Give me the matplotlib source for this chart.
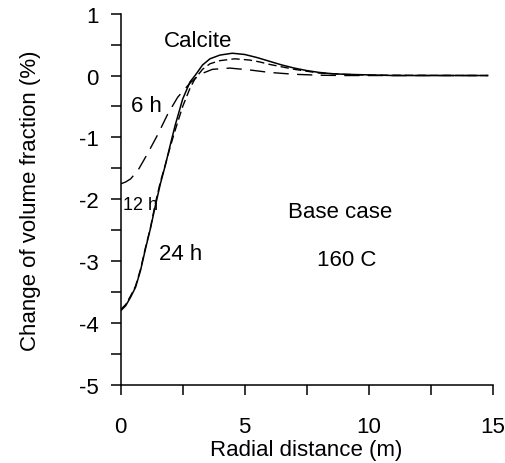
import matplotlib
matplotlib.use("Agg")
import matplotlib.pyplot as plt
from matplotlib.ticker import MultipleLocator

plt.rcParams['font.family'] = ['Liberation Sans', 'DejaVu Sans']
plt.rcParams['axes.unicode_minus'] = False

# values
x_24h = [0.0, 0.2, 0.4, 0.6, 0.8, 1.0, 1.2, 1.4, 1.6, 1.8, 2.0, 2.2, 2.5, 2.8, 3.0,
         3.3, 3.6, 4.0, 4.5, 5.0, 5.5, 6.0, 6.5, 7.0, 7.5, 8.0, 8.5, 9.0, 10.0, 11.0, 14.8]
y_24h = [-3.8, -3.72, -3.58, -3.42, -3.15, -2.8, -2.47, -2.1, -1.75, -1.45, -1.12, -0.8, -0.38,
         -0.1, 0.0, 0.17, 0.27, 0.33, 0.36, 0.34, 0.29, 0.23, 0.17, 0.12, 0.08, 0.05, 0.03,
         0.02, 0.01, 0.0, 0.0]

x_12h = [0.0, 0.2, 0.4, 0.6, 0.8, 1.0, 1.2, 1.4, 1.6, 1.8, 2.0, 2.2, 2.5, 2.8, 3.0,
         3.3, 3.6, 4.0, 4.6, 5.2, 5.6, 6.0, 6.5, 7.0, 7.5, 8.0, 9.0, 10.0, 14.8]
y_12h = [-3.78, -3.7, -3.56, -3.4, -3.13, -2.78, -2.46, -2.06, -1.72, -1.44, -1.15, -0.88,
         -0.5, -0.2, -0.05, 0.1, 0.19, 0.24, 0.27, 0.25, 0.22, 0.18, 0.14, 0.1, 0.07, 0.04,
         0.02, 0.005, 0.0]

x_6h = [0.0, 0.2, 0.4, 0.7, 1.1, 1.5, 1.9, 2.3, 2.8, 3.2, 3.7, 4.4, 5.2, 6.0, 7.0, 8.0, 9.0, 14.8]
y_6h = [-1.75, -1.72, -1.67, -1.53, -1.25, -0.95, -0.62, -0.35, -0.12, 0.02, 0.1, 0.12,
        0.09, 0.05, 0.02, 0.005, 0.0, 0.0]

fig = plt.figure(figsize=(5.06, 4.64), dpi=100)
ax = fig.add_axes([0.2385, 0.168, 0.7352, 0.8005])

ax.plot(x_24h, y_24h, color='black', lw=1.1)
ax.plot(x_12h, y_12h, color='black', lw=1.0, dashes=(6, 3))
ax.plot(x_6h, y_6h, color='black', lw=1.0, dashes=(11, 6))

ax.set_xlim(0, 15)
ax.set_ylim(-5, 1)
ax.xaxis.set_major_locator(MultipleLocator(5))
ax.xaxis.set_minor_locator(MultipleLocator(2.5))
ax.yaxis.set_major_locator(MultipleLocator(1))
ax.yaxis.set_minor_locator(MultipleLocator(0.5))

for s in ['top', 'right']:
    ax.spines[s].set_visible(False)
for s in ['left', 'bottom']:
    ax.spines[s].set_linewidth(1.1)

ax.tick_params(which='both', direction='out', length=7, width=1.1, labelsize=16)
ax.tick_params(axis='y', pad=9)
ax.tick_params(axis='x', pad=15)

ax.set_xlabel('Radial distance (m)', fontsize=16, labelpad=2)
ax.set_ylabel('Change of volume fraction (%)', fontsize=16, labelpad=27)

ax.text(3.12, 0.57, 'Calcite', fontsize=16, ha='center', va='center')
ax.text(1.02, -0.49, '6 h', fontsize=16, ha='center', va='center')
ax.text(0.78, -2.08, '12 h', fontsize=13, ha='center', va='center')
ax.text(2.43, -2.88, '24 h', fontsize=16, ha='center', va='center')
ax.text(8.85, -2.2, 'Base case', fontsize=16, ha='center', va='center')
ax.text(9.11, -2.98, '160 C', fontsize=16, ha='center', va='center')

fig.savefig('out.png', dpi=100)
